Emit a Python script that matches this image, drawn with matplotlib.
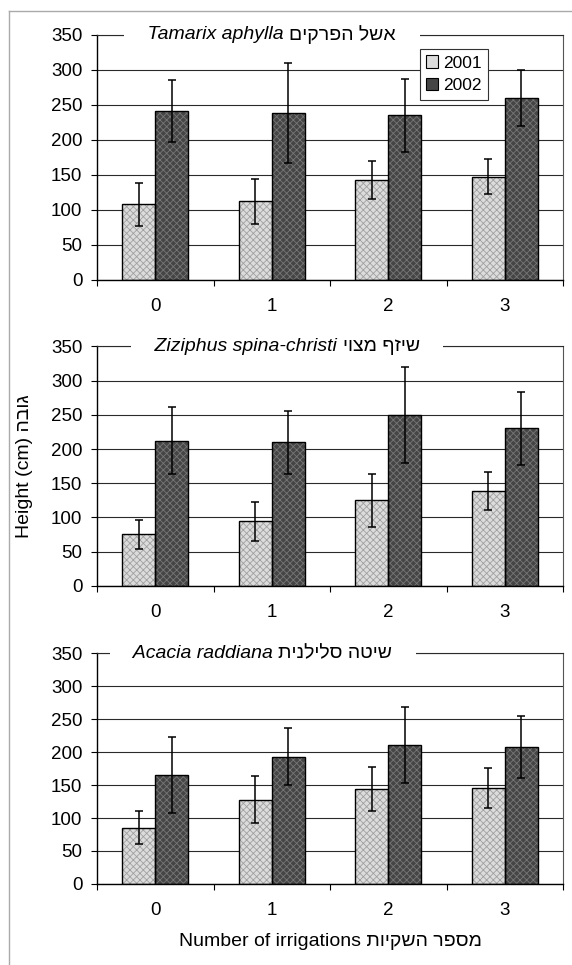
import matplotlib
matplotlib.use('Agg')
import matplotlib.pyplot as plt
from matplotlib.patches import Patch
from matplotlib.lines import Line2D
import numpy as np

plt.rcParams['font.family'] = ['Liberation Sans', 'DejaVu Sans']
plt.rcParams['hatch.linewidth'] = 0.6

# data (mean height, cm, and error)
irrigations = ['0', '1', '2', '3']
years = ['2001', '2002']

tam_2001 = [108, 112, 143, 147]
tam_2001_err = [31, 32, 27, 25]
tam_2002 = [241, 238, 235, 259]
tam_2002_err = [44, 71, 52, 40]

ziz_2001 = [75, 94, 125, 139]
ziz_2001_err = [21, 29, 39, 28]
ziz_2002 = [212, 210, 250, 230]
ziz_2002_err = [49, 46, 70, 54]

aca_2001 = [85, 128, 144, 146]
aca_2001_err = [25, 36, 34, 30]
aca_2002 = [165, 193, 211, 208]
aca_2002_err = [58, 43, 58, 47]

latin_names = ['Tamarix aphylla', 'Ziziphus spina-christi', 'Acacia raddiana']
hebrew_names = ['אשל הפרקים', 'שיזף מצוי', 'שיטה סלילנית']
title_split = [0.413, 0.527, 0.389]   # where latin part ends, axes fraction

panels = [
    (tam_2001, tam_2001_err, tam_2002, tam_2002_err),
    (ziz_2001, ziz_2001_err, ziz_2002, ziz_2002_err),
    (aca_2001, aca_2001_err, aca_2002, aca_2002_err),
]


def heb(s):
    # matplotlib has no bidi support, so flip the hebrew by hand
    return s[::-1]


fig = plt.figure(figsize=(5.72, 9.65), dpi=100)
left, width = 0.1696, 0.8147
boxes = [(0.710, 0.254), (0.393, 0.248), (0.084, 0.239)]

col_light = '#dcdcdc'
col_dark = '#454545'
w = 0.285
x = np.arange(len(irrigations))
fs = 13.5

for i, (a, ae, b, be) in enumerate(panels):
    ax = fig.add_axes([left, boxes[i][0], width, boxes[i][1]])
    # gridlines
    ax.set_ylim(0, 350)
    ax.set_yticks(range(0, 351, 50))
    ax.yaxis.grid(True, color='#2a2a2a', lw=0.8)
    ax.set_axisbelow(True)

    ax.bar(x - w / 2, a, w, color=col_light, hatch='xxxxx', edgecolor='#a0a0a0', lw=0, zorder=2)
    ax.bar(x - w / 2, a, w, fill=False, edgecolor='black', lw=1.0, zorder=3)
    ax.bar(x + w / 2, b, w, color=col_dark, hatch='xxxxx', edgecolor='#777777', lw=0, zorder=2)
    ax.bar(x + w / 2, b, w, fill=False, edgecolor='black', lw=1.0, zorder=3)
    ax.errorbar(x - w / 2, a, yerr=ae, fmt='none', ecolor='black', elinewidth=1.1, capsize=3, capthick=1.1, zorder=4)
    ax.errorbar(x + w / 2, b, yerr=be, fmt='none', ecolor='black', elinewidth=1.1, capsize=3, capthick=1.1, zorder=4)

    ax.set_xlim(-0.5, 3.5)
    ax.set_xticks(x)
    ax.set_xticklabels(irrigations)
    ax.set_xticks(np.arange(-0.5, 3.6, 1), minor=True)
    ax.tick_params(axis='x', which='major', length=0, labelsize=fs, pad=13)
    ax.tick_params(axis='x', which='minor', length=4, width=0.8)
    ax.tick_params(axis='y', length=4.5, width=0.8, labelsize=fs, pad=6)

    for sp in ['left', 'bottom']:
        ax.spines[sp].set_linewidth(1.0)
    ax.spines['top'].set_color('#2a2a2a')
    ax.spines['top'].set_linewidth(0.8)
    ax.spines['right'].set_color('#555555')
    ax.spines['right'].set_linewidth(0.8)

    s = title_split[i]
    bb = dict(facecolor='white', edgecolor='none', pad=1.5)
    ax.text(s, 1.0, '    ' + latin_names[i] + ' ', transform=ax.transAxes, ha='right', va='center',
            fontsize=14, style='italic', bbox=bb, zorder=10, clip_on=False)
    ax.text(s, 1.0, heb(hebrew_names[i]) + '    ', transform=ax.transAxes, ha='left', va='center',
            fontsize=14, bbox=bb, zorder=10, clip_on=False)

    if i == 0:
        handles = [Patch(facecolor=col_light, edgecolor='black', lw=0.8),
                   Patch(facecolor=col_dark, edgecolor='black', lw=0.8)]
        leg = ax.legend(handles, years, loc='upper right', bbox_to_anchor=(0.857, 0.976),
                        fontsize=12.5, handlelength=0.7, handleheight=0.7, handletextpad=0.3,
                        borderpad=0.35, labelspacing=0.45, fancybox=False, framealpha=1,
                        edgecolor='#333333')
        leg.get_frame().set_linewidth(0.8)
    if i == 1:
        ax.set_ylabel('Height (cm) ' + heb('גובה'), fontsize=14)
        ax.yaxis.set_label_coords(-0.137, 0.5)
    if i == 2:
        ax.set_xlabel('Number of irrigations ' + heb('מספר השקיות'), fontsize=14)
        ax.xaxis.set_label_coords(0.50, -0.212)

# scan border
fig.add_artist(Line2D([9 / 572, 9 / 572], [0, 1 - 11 / 965], transform=fig.transFigure, color='#aaaaaa', lw=1))
fig.add_artist(Line2D([9 / 572, 1], [1 - 11 / 965, 1 - 11 / 965], transform=fig.transFigure, color='#aaaaaa', lw=1))

fig.savefig('out.png', dpi=100)
